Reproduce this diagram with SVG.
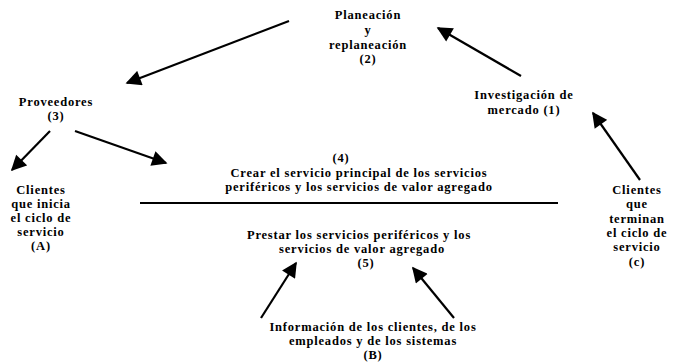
<svg xmlns="http://www.w3.org/2000/svg" width="676" height="362" viewBox="0 0 676 362">
<defs>
<marker id="ah" viewBox="0 0 10 10" refX="9" refY="5" markerWidth="7.5" markerHeight="7" orient="auto" markerUnits="strokeWidth">
<path d="M0,0 L10,5 L0,10 z" fill="#000"/>
</marker>
<style>
text{font-family:"Liberation Serif","Times New Roman",serif;font-weight:bold;font-size:12.5px;letter-spacing:0.8px;fill:#000;text-anchor:middle}
.c line{stroke:#000;stroke-width:2.2;marker-end:url(#ah)}
</style>
</defs>
<rect width="676" height="362" fill="#fff"/>
<g class="c" id="connectors">
<line x1="521" y1="76" x2="438" y2="28"/>
<line x1="289" y1="21" x2="127" y2="83"/>
<line x1="50" y1="131" x2="12" y2="170"/>
<line x1="75" y1="131" x2="166" y2="163"/>
<line x1="640" y1="180" x2="593" y2="113"/>
<line x1="261" y1="318" x2="296" y2="263"/>
<line x1="454" y1="318" x2="413" y2="268"/>
<line x1="140" y1="203" x2="558" y2="203" style="marker-end:none;stroke-width:2"/>
</g>
<g id="n2"><text x="368" y="19">Planeación</text><text x="368" y="34">y</text><text x="368" y="49">replaneación</text><text x="368" y="63">(2)</text></g>
<g id="n1"><text x="524" y="99">Investigación  de</text><text x="524" y="114">mercado (1)</text></g>
<g id="n3"><text x="56" y="106">Proveedores</text><text x="56" y="120">(3)</text></g>
<g id="nA"><text x="41" y="194">Clientes</text><text x="41" y="208">que inicia</text><text x="41" y="222">el ciclo de</text><text x="41" y="236">servicio</text><text x="41" y="250">(A)</text></g>
<g id="n4"><text x="341" y="162">(4)</text><text x="359" y="177">Crear el servicio principal de los servicios</text><text x="359" y="191">periféricos y los servicios de valor agregado</text></g>
<g id="n5"><text x="359" y="239">Prestar los servicios periféricos y los</text><text x="362" y="253">servicios de valor agregado</text><text x="366" y="267">(5)</text></g>
<g id="nB"><text x="373" y="331">Información de los clientes, de los</text><text x="373" y="345">empleados y de los sistemas</text><text x="373" y="359">(B)</text></g>
<g id="nC"><text x="637" y="194">Clientes</text><text x="637" y="208">que</text><text x="637" y="223">terminan</text><text x="637" y="237">el ciclo de</text><text x="637" y="251">servicio</text><text x="637" y="266">(c)</text></g>
</svg>
